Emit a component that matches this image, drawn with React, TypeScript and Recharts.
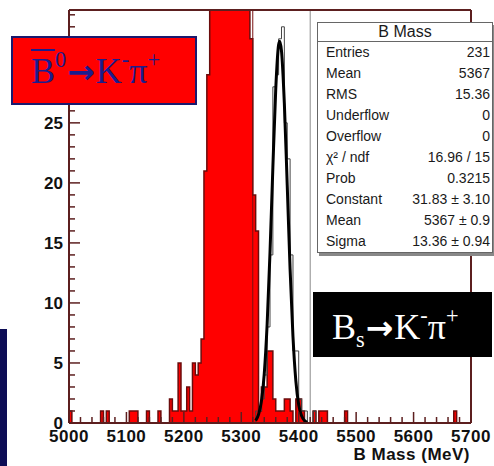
import { ComposedChart, Area, Line, XAxis, YAxis, ReferenceLine } from 'recharts';

// B0 -> K pi candidates, 5 MeV bins starting at 5000 MeV (peak runs off the top)
const binLow = 5000;
const binWidth = 5;
const b0Counts = [
  1, 0, 0, 0, 0, 0, 0, 0, 0, 0, 0, 1, 0, 1, 0, 0, 0, 0, 0, 0,
  0, 1, 1, 1, 0, 0, 0, 1, 0, 0, 0, 1, 0, 0, 0, 2, 1, 1, 5, 1,
  1, 3, 1, 5, 4, 5, 7, 21, 29, 48, 70, 95, 120, 145, 160, 168, 160, 150, 130, 110,
  88, 68, 50, 32, 19, 16, 1, 3, 3, 6, 6, 2, 1, 1, 1, 2, 2, 1, 0, 2,
  2, 1, 0, 0, 0, 1, 0, 1, 1, 1, 0, 0, 0, 0, 0, 0, 1, 0, 0, 0,
  0, 0, 0, 0, 0, 0, 0, 0, 0, 0, 0, 0, 0, 0, 0, 0, 0, 0, 0, 0,
  0, 0, 0, 0, 0, 0, 0, 0, 0, 0, 0, 0, 0, 0, 1, 0, 0, 0, 0, 0,
];

// Bs -> K pi histogram (open), same binning
const bsStart = 5320;
const bsCounts = [0, 1, 1, 2, 4, 8, 14, 28, 29, 32, 33, 25, 22, 14, 6, 6, 2, 1, 1, 0, 0, 1];

// gaussian fit drawn over the Bs peak
const fitMass = [5325, 5330, 5335, 5340, 5345, 5350, 5355, 5360, 5365, 5367, 5370, 5375, 5380, 5385, 5390, 5395, 5400, 5405, 5410, 5415];
const fitValues = [0.2, 0.7, 1.8, 4.1, 8.2, 14.2, 21.3, 27.8, 31.5, 31.8, 31.0, 26.6, 19.8, 12.8, 7.2, 3.5, 1.5, 0.6, 0.2, 0.05];

const cutLines = [5320, 5420];

const xMajorTicks = [5000, 5100, 5200, 5300, 5400, 5500, 5600, 5700];
const yMajorTicks = [0, 5, 10, 15, 20, 25, 30];
const yLabels = [0, 5, 10, 15, 20, 25]; // 30 sits under the B0 label
const xMinorStep = 20;
const yMax = 34.4;

const statsRows = [
  ['Entries', '231'],
  ['Mean', '5367'],
  ['RMS', '15.36'],
  ['Underflow', '0'],
  ['Overflow', '0'],
  ['χ² / ndf', '16.96 / 15'],
  ['Prob', '0.3215'],
  ['Constant', '31.83 ± 3.10'],
  ['Mean', '5367 ± 0.9'],
  ['Sigma', '13.36 ± 0.94'],
];

const frame = '#5c1f1f';
const sans = '"Liberation Sans", Arial, sans-serif';
const serif = '"Liberation Serif", "Times New Roman", serif';

const b0Data = [
  ...b0Counts.map((n, i) => ({ m: binLow + i * binWidth, n })),
  { m: binLow + b0Counts.length * binWidth, n: 0 },
];
const bsData = [
  ...bsCounts.map((n, i) => ({ m: bsStart + i * binWidth, n })),
  { m: bsStart + bsCounts.length * binWidth, n: 0 },
];
const fitData = fitMass.map((m, i) => ({ m, n: fitValues[i] }));

const xTicks: number[] = [];
for (let v = xMajorTicks[0]; v <= xMajorTicks[xMajorTicks.length - 1]; v += xMinorStep) xTicks.push(v);
const yTicks: number[] = [];
for (let v = 0; v <= Math.floor(yMax); v += 1) yTicks.push(v);

function XTick({ x, y, payload }: any) {
  const major = xMajorTicks.includes(payload.value);
  return (
    <g>
      <line x1={x} x2={x} y1={y} y2={y - (major ? 11 : 6)} stroke={frame} strokeWidth={1.5} />
      {major && (
        <text x={x} y={y + 19} textAnchor="middle" fontFamily={sans} fontWeight={700} fontSize={17} fill="#111" letterSpacing={0.5}>
          {payload.value}
        </text>
      )}
    </g>
  );
}

function YTick({ x, y, payload }: any) {
  const major = yMajorTicks.includes(payload.value);
  return (
    <g>
      <line x1={x} x2={x + (major ? 11 : 6)} y1={y} y2={y} stroke={frame} strokeWidth={1.5} />
      {yLabels.includes(payload.value) && (
        <text x={x - 6} y={y + 6} textAnchor="end" fontFamily={sans} fontWeight={700} fontSize={17} fill="#111">
          {payload.value}
        </text>
      )}
    </g>
  );
}

const sup = { fontSize: '0.62em', position: 'relative' as const, top: '-0.7em' };
const sub = { fontSize: '0.62em', position: 'relative' as const, top: '0.35em' };
const arrow = { fontFamily: '"DejaVu Sans"', fontWeight: 700, fontSize: 33, margin: '0 1px' };

export default function App() {
  return (
    <div style={{ position: 'absolute', left: 0, top: 0, width: 494, height: 466, background: '#fff', overflow: 'hidden' }}>
      <ComposedChart width={494} height={466} margin={{ top: 10, right: 23, bottom: 0, left: 9 }}>
        <XAxis
          type="number"
          dataKey="m"
          domain={[5000, 5700]}
          ticks={xTicks}
          interval={0}
          allowDataOverflow
          height={43}
          tickSize={0}
          tickMargin={0}
          tickLine={false}
          axisLine={{ stroke: frame, strokeWidth: 2 }}
          tick={(p: any) => <XTick {...p} />}
        />
        <YAxis
          type="number"
          domain={[0, yMax]}
          ticks={yTicks}
          interval={0}
          allowDataOverflow
          width={60}
          tickSize={0}
          tickMargin={0}
          tickLine={false}
          axisLine={{ stroke: frame, strokeWidth: 2 }}
          tick={(p: any) => <YTick {...p} />}
        />
        <Area
          data={b0Data}
          dataKey="n"
          type="stepAfter"
          fill="#ff0000"
          fillOpacity={1}
          stroke="#6a0c0c"
          strokeWidth={1.5}
          dot={false}
          activeDot={false}
          isAnimationActive={false}
        />
        <Line
          data={bsData}
          dataKey="n"
          type="stepAfter"
          stroke="#444"
          strokeWidth={1}
          dot={false}
          activeDot={false}
          isAnimationActive={false}
        />
        <Line
          data={fitData}
          dataKey="n"
          type="monotone"
          stroke="#000"
          strokeWidth={3}
          dot={false}
          activeDot={false}
          isAnimationActive={false}
        />
        <ReferenceLine x={cutLines[0]} stroke="#7a1010" strokeWidth={1} ifOverflow="visible" />
        <ReferenceLine x={cutLines[1]} stroke="#8a8a8a" strokeWidth={1} ifOverflow="visible" />
        <ReferenceLine y={yMax} stroke={frame} strokeWidth={2} ifOverflow="visible" />
        <ReferenceLine x={5700} stroke={frame} strokeWidth={2} ifOverflow="visible" />
      </ComposedChart>

      <div
        style={{
          position: 'absolute',
          left: 0,
          width: 470,
          top: 446,
          textAlign: 'right',
          fontFamily: sans,
          fontWeight: 700,
          fontSize: 17,
          lineHeight: '17px',
          color: '#111',
          letterSpacing: 0.5,
        }}
      >
        B Mass (MeV)
      </div>

      {/* stats box */}
      <div
        style={{
          position: 'absolute',
          left: 317,
          top: 22,
          width: 176,
          height: 231,
          boxSizing: 'border-box',
          border: '1px solid #666',
          boxShadow: '2px 3px 0 #888',
          background: '#fff',
          fontFamily: sans,
          color: '#1a1a1a',
        }}
      >
        <div style={{ height: 18, borderBottom: '1px solid #666', textAlign: 'center', fontSize: 16, lineHeight: '18px' }}>B Mass</div>
        {statsRows.map(([k, v], i) => (
          <div key={i} style={{ display: 'flex', justifyContent: 'space-between', height: 21, lineHeight: '21px', fontSize: 14, padding: '0 2px 0 8px' }}>
            <span>{k}</span>
            <span>{v}</span>
          </div>
        ))}
      </div>

      {/* B0 label */}
      <div
        style={{
          position: 'absolute',
          left: 11,
          top: 36,
          width: 186,
          height: 69,
          boxSizing: 'border-box',
          border: '2px solid #1a1a6e',
          background: '#ff0000',
        }}
      />
      <div style={{ position: 'absolute', left: 31, top: 55, fontFamily: serif, fontSize: 36, lineHeight: '33px', color: '#1c1c8c', whiteSpace: 'nowrap' }}>
        <span style={{ textDecoration: 'overline', textDecorationThickness: 2 }}>B</span>
        <span style={sup}>0</span>
        <span style={arrow}>→</span>K<span style={sup}>-</span>π<span style={sup}>+</span>
      </div>

      {/* Bs label */}
      <div style={{ position: 'absolute', left: 313, top: 292, width: 179, height: 65, background: '#000' }} />
      <div style={{ position: 'absolute', left: 332, top: 311, fontFamily: serif, fontSize: 36, lineHeight: '33px', color: '#fff', whiteSpace: 'nowrap' }}>
        B<span style={sub}>s</span>
        <span style={arrow}>→</span>K<span style={sup}>-</span>π<span style={sup}>+</span>
      </div>

      <div style={{ position: 'absolute', left: 0, top: 329, width: 7, height: 137, background: '#0d0d55' }} />
    </div>
  );
}
